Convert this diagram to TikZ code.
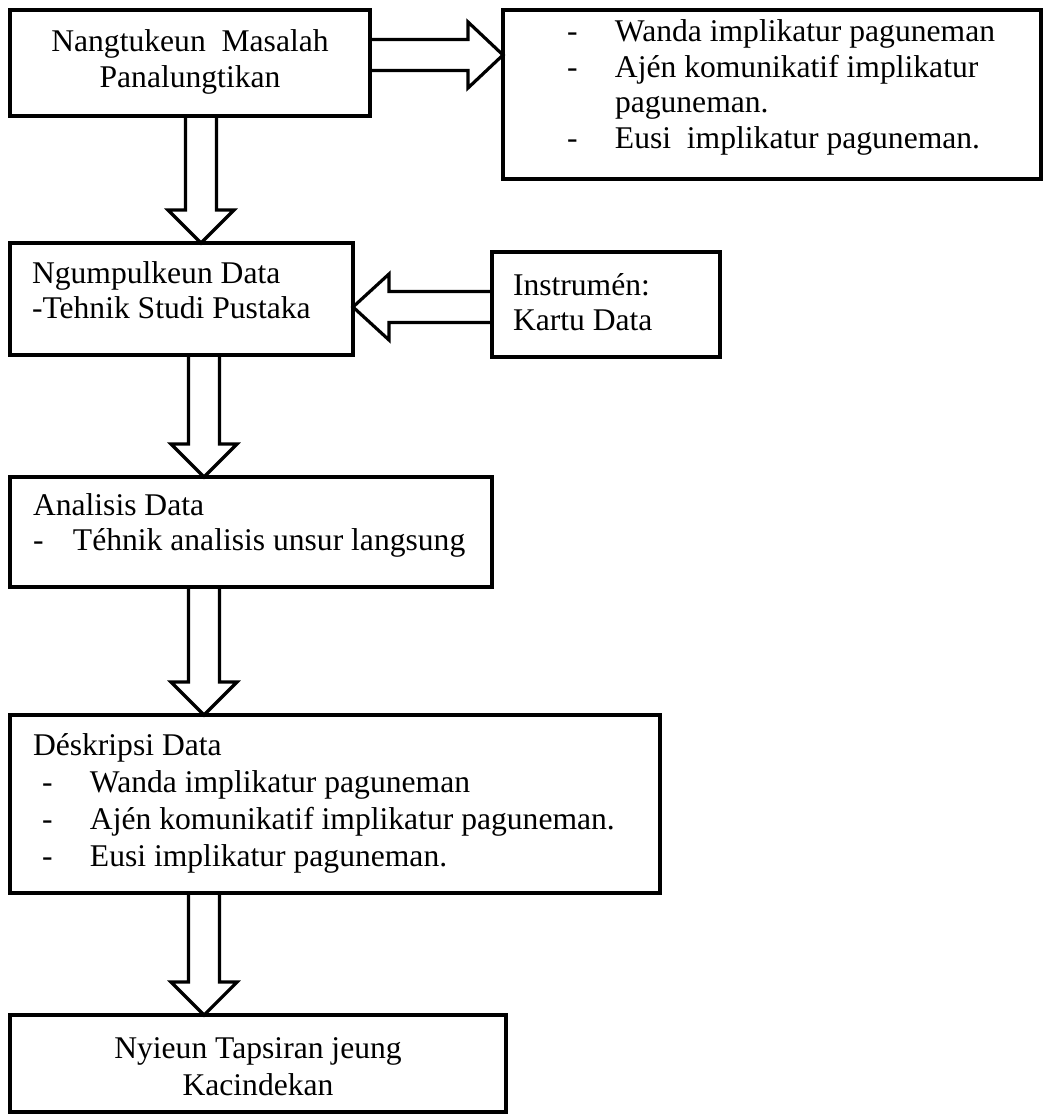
\documentclass[tikz,border=0pt]{standalone}
\usepackage{fontspec}
\setmainfont{Liberation Serif}
\usetikzlibrary{calc}
\newcommand\fsz[1]{\fontsize{31.6pt}{#1pt}\selectfont}
\newcommand\fatdown[2]{\draw[fatline] let \p1=(#1), \p2=(#2) in
  (\x1-15.5pt,\y1) -- (\x1-15.5pt,\y2+33pt) -- (\x1-33pt,\y2+33pt) -- (\x2,\y2)
  -- (\x1+33pt,\y2+33pt) -- (\x1+15.5pt,\y2+33pt) -- (\x1+15.5pt,\y1);}
\newcommand\fatright[2]{\draw[fatline] let \p1=(#1), \p2=(#2) in
  (\x1,\y1+15.5pt) -- (\x2-35pt,\y1+15.5pt) -- (\x2-35pt,\y1+33pt) -- (\x2,\y2)
  -- (\x2-35pt,\y1-33pt) -- (\x2-35pt,\y1-15.5pt) -- (\x1,\y1-15.5pt);}
\newcommand\fatleft[2]{\draw[fatline] let \p1=(#1), \p2=(#2) in
  (\x1,\y1+15.5pt) -- (\x2+36pt,\y1+15.5pt) -- (\x2+36pt,\y1+33pt) -- (\x2,\y2)
  -- (\x2+36pt,\y1-33pt) -- (\x2+36pt,\y1-15.5pt) -- (\x1,\y1-15.5pt);}
\begin{document}
\begin{tikzpicture}[x=1pt,y=-1pt,
  box/.style={draw, line width=3.6pt, inner sep=0pt, outer sep=0pt, anchor=north west},
  fatline/.style={draw, line width=3.2pt, line join=miter},
  txt/.style={inner sep=0pt, outer sep=0pt}]
\useasboundingbox (0,0) rectangle (1043,1118);

% boxes
\node[box, minimum width=360pt, minimum height=106pt] (b1) at (10,10) {};
\node[box, minimum width=538pt, minimum height=169pt] (b2) at (503,10) {};
\node[box, minimum width=343pt, minimum height=112pt] (b3) at (10,243) {};
\node[box, minimum width=228pt, minimum height=105pt] (b4) at (492,252) {};
\node[box, minimum width=482pt, minimum height=110pt] (b5) at (10,477) {};
\node[box, minimum width=650pt, minimum height=178pt] (b6) at (10,715) {};
\node[box, minimum width=496pt, minimum height=97pt] (b7) at (10,1015) {};

% texts
\node[txt, anchor=base] (t1) at (190,52) {\fsz{36}\begin{tabular}[t]{@{}c@{}}Nangtukeun\ \ Masalah\\Panalungtikan\end{tabular}};
\node[txt, anchor=base west] (t2) at (567,42) {\fsz{35.5}\begin{tabular}[t]{@{}p{48pt}@{}l@{}}-&Wanda implikatur paguneman\\-&Ajén komunikatif implikatur\\&paguneman.\\-&Eusi\ \ implikatur paguneman.\end{tabular}};
\node[txt, anchor=base west] (t3) at (32,283) {\fsz{35}\begin{tabular}[t]{@{}l@{}}Ngumpulkeun Data\\-Tehnik Studi Pustaka\end{tabular}};
\node[txt, anchor=base west] (t4) at (513,295) {\fsz{35}\begin{tabular}[t]{@{}l@{}}Instrumén:\\Kartu Data\end{tabular}};
\node[txt, anchor=base west] (t5) at (33,515) {\fsz{35}\begin{tabular}[t]{@{}p{40pt}@{}l@{}}\multicolumn{2}{@{}l@{}}{Analisis Data}\\-&Téhnik analisis unsur langsung\end{tabular}};
\node[txt, anchor=base west] (t6) at (33,755) {\fsz{37.3}\begin{tabular}[t]{@{}p{9pt}@{}p{48pt}@{}l@{}}\multicolumn{3}{@{}l@{}}{Déskripsi Data}\\&-&Wanda implikatur paguneman\\&-&Ajén komunikatif implikatur paguneman.\\&-&Eusi implikatur paguneman.\end{tabular}};
\node[txt, anchor=base] (t7) at (258,1058) {\fsz{37}\begin{tabular}[t]{@{}c@{}}Nyieun Tapsiran jeung\\Kacindekan\end{tabular}};

% arrow guide coordinates
\coordinate (r1) at (0,55);
\coordinate (r2) at (0,307);
\coordinate (d1) at (201,0);
\coordinate (d2) at (204,0);

% block arrows
\fatright{b1.east |- r1}{b2.west |- r1}
\fatdown{b1.south -| d1}{b3.north -| d1}
\fatleft{b4.west |- r2}{b3.east |- r2}
\fatdown{b3.south -| d2}{b5.north -| d2}
\fatdown{b5.south -| d2}{b6.north -| d2}
\fatdown{b6.south -| d2}{b7.north -| d2}
\end{tikzpicture}
\end{document}
